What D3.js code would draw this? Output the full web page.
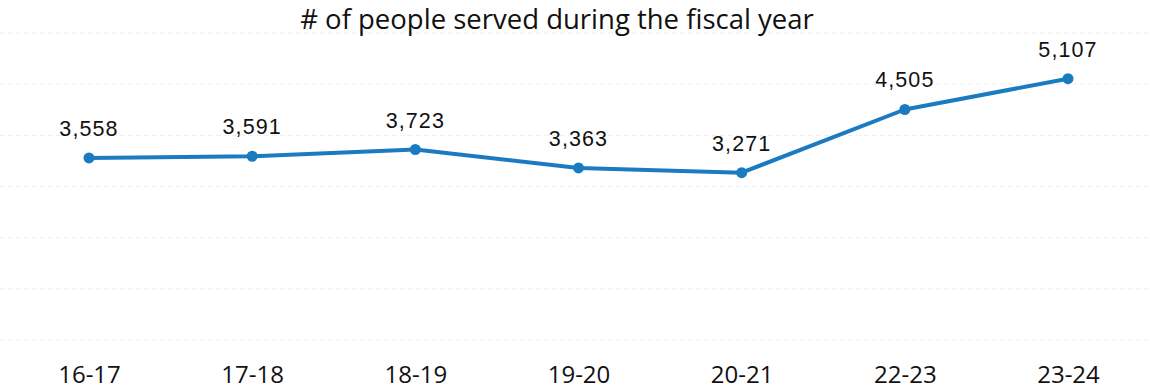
<!DOCTYPE html>
<html><head><meta charset="utf-8">
<script src="https://cdn.jsdelivr.net/npm/d3@7"></script>
<style>body{margin:0;background:#fff}svg{display:block}</style>
</head><body>
<svg id="c" width="1150" height="391"></svg>
<script>
const categories = ["16-17","17-18","18-19","19-20","20-21","22-23","23-24"];
const values = [3558,3591,3723,3363,3271,4505,5107];
const yTicks = [0,1000,2000,3000,4000,5000,6000];
const title = "# of people served during the fiscal year";

const svg = d3.select("#c");
const x = d3.scalePoint().domain(categories).range([89,1068]);
const y = d3.scaleLinear().domain([0,6000]).range([340,33]);

svg.append("g").selectAll("line").data(yTicks).join("line")
  .attr("x1",0).attr("x2",1150)
  .attr("y1",d=>y(d)).attr("y2",d=>y(d))
  .attr("stroke","#eeeeee").attr("stroke-width",1).attr("stroke-dasharray","5,3");

svg.append("text").attr("x",557).attr("y",29).attr("text-anchor","middle")
  .attr("font-family","Open Sans, Noto Sans, sans-serif").attr("font-size",27.5)
  .attr("fill","#111").text(title);

const xAxis = svg.append("g").attr("transform","translate(0,340)")
  .call(d3.axisBottom(x).tickSize(0).tickPadding(26));
xAxis.select(".domain").remove();
xAxis.selectAll("text").attr("font-family","Open Sans, Noto Sans, sans-serif")
  .attr("font-size",24).attr("fill","#111");

const line = d3.line().x((d,i)=>x(categories[i])).y(d=>y(d));
svg.append("path").datum(values).attr("d",line)
  .attr("fill","none").attr("stroke","#1b7bc0").attr("stroke-width",4)
  .attr("stroke-linejoin","round");

svg.append("g").selectAll("circle").data(values).join("circle")
  .attr("cx",(d,i)=>x(categories[i])).attr("cy",d=>y(d)).attr("r",5.5)
  .attr("fill","#1b7bc0");

svg.append("g").selectAll("text").data(values).join("text")
  .attr("x",(d,i)=>x(categories[i])).attr("y",d=>y(d)-22)
  .attr("text-anchor","middle").attr("font-family","Liberation Sans, Arial, sans-serif")
  .attr("font-size",21.5).attr("letter-spacing",1.1).attr("fill","#111")
  .text(d=>d3.format(",")(d));
</script>
</body></html>
